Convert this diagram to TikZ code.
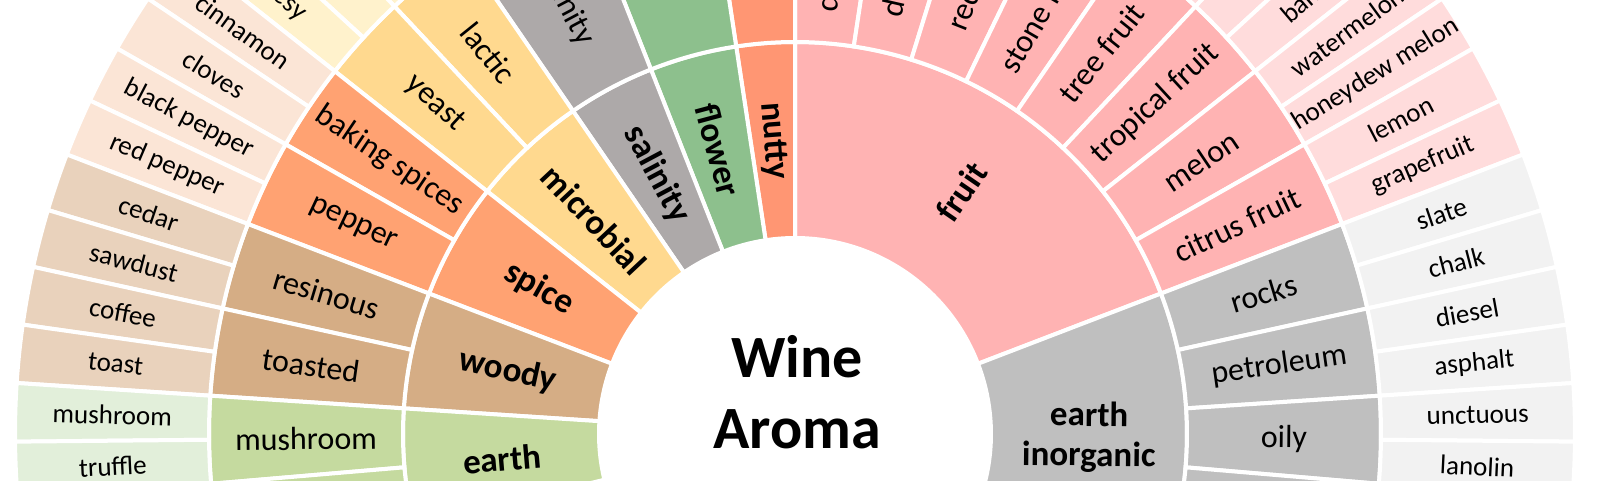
\documentclass[tikz,border=0pt]{standalone}
\usepackage{fontspec}
\setmainfont{Carlito}
\usepackage{tikz}

\definecolor{fruitpink}{HTML}{FFB3B3}
\definecolor{fruitleaf}{HTML}{FFDCDC}
\definecolor{nuttyorange}{HTML}{FF9673}
\definecolor{flowergreen}{HTML}{8DC08D}
\definecolor{saltgray}{HTML}{ADA9A9}
\definecolor{microyellow}{HTML}{FFD98F}
\definecolor{microleaf}{HTML}{FFF2CC}
\definecolor{spiceorange}{HTML}{FFA272}
\definecolor{spiceleaf}{HTML}{FBE5D6}
\definecolor{woodytan}{HTML}{D5AD85}
\definecolor{woodyleaf}{HTML}{E9D2BC}
\definecolor{earthgreen}{HTML}{C5DA9F}
\definecolor{earthleaf}{HTML}{E2EFDA}
\definecolor{inorggray}{HTML}{BFBFBF}
\definecolor{inorgleaf}{HTML}{F2F2F2}

% one leaf of the outer ring, in degrees
\newcommand{\leafstep}{4.3125}

\begin{document}
\begin{tikzpicture}[x=1pt, y=1pt,
  cell/.style={draw=white, line width=4pt, line join=round},
  catlabel/.style={font=\bfseries\fontsize{35}{40}\selectfont, inner sep=0pt, align=center},
  sublabel/.style={font=\fontsize{32}{36}\selectfont, inner sep=0pt},
  leaflabel/.style={font=\fontsize{27}{30}\selectfont, inner sep=0pt},
  titlelabel/.style={font=\bfseries\fontsize{60}{70}\selectfont, inner sep=0pt}]

  \useasboundingbox (-795,-46) rectangle (805,434);
  \fill[white] (-795,-46) rectangle (805,434);
  \clip (-795,-46) rectangle (805,434);

  % inner ring: categories
  \foreach \a/\b/\col/\txt/\nm in {
      0/16/fruitpink/fruit/fruit,
      16/26/inorggray/{earth\\inorganic}/inorganic,
      -2/0/nuttyorange/nutty/nutty,
      -5/-2/flowergreen/flower/flower,
      -8/-5/saltgray/salinity/salinity,
      -12/-8/microyellow/microbial/microbial,
      -16/-12/spiceorange/spice/spice,
      -20/-16/woodytan/woody/woody,
      -24/-20/earthgreen/earth/earth} {
    \pgfmathsetmacro\sa{90-\a*\leafstep}
    \pgfmathsetmacro\ea{90-\b*\leafstep}
    \pgfmathsetmacro\md{(\sa+\ea)/2}
    \pgfmathsetmacro\rot{\md>90 ? \md-180 : \md}
    \filldraw[cell, fill=\col] (\sa:196) arc[start angle=\sa, end angle=\ea, radius=196]
      -- (\ea:392) arc[start angle=\ea, end angle=\sa, radius=392] -- cycle;
    \node[catlabel, rotate=\rot] (\nm) at (\md:294) {\txt};
  }

  % middle ring: sub categories
  \foreach \a/\b/\col/\txt/\nm in {
      0/2/fruitpink/dried fruit/dried,
      2/4/fruitpink/dark fruit/dark,
      4/6/fruitpink/red fruit/red,
      6/8/fruitpink/stone fruit/stone,
      8/10/fruitpink/tree fruit/tree,
      10/12/fruitpink/tropical fruit/tropical,
      12/14/fruitpink/melon/melon,
      14/16/fruitpink/citrus fruit/citrus,
      16/18/inorggray/rocks/rocks,
      18/20/inorggray/petroleum/petroleum,
      20/22/inorggray/oily/oily,
      22/26/inorggray//,
      -2/0/nuttyorange//,
      -5/-2/flowergreen//,
      -8/-5/saltgray/salinity/salt,
      -10/-8/microyellow/lactic/lactic,
      -12/-10/microyellow/yeast/yeast,
      -14/-12/spiceorange/baking spices/baking,
      -16/-14/spiceorange/pepper/pepper,
      -18/-16/woodytan/resinous/resinous,
      -20/-18/woodytan/toasted/toasted,
      -22/-20/earthgreen/mushroom/mushroom,
      -24/-22/earthgreen//} {
    \pgfmathsetmacro\sa{90-\a*\leafstep}
    \pgfmathsetmacro\ea{90-\b*\leafstep}
    \pgfmathsetmacro\md{(\sa+\ea)/2}
    \pgfmathsetmacro\rot{\md>90 ? \md-180 : \md}
    \filldraw[cell, fill=\col] (\sa:392) arc[start angle=\sa, end angle=\ea, radius=392]
      -- (\ea:586) arc[start angle=\ea, end angle=\sa, radius=586] -- cycle;
    \ifx\txt\empty\else
      \node[sublabel, rotate=\rot] (\nm) at (\md:489) {\txt};
    \fi
  }

  % outer ring: aromas
  \foreach \a/\b/\col/\txt/\nm in {
      8/9/fruitleaf//, 9/10/fruitleaf//, 10/11/fruitleaf//,
      11/12/fruitleaf/banana/banana,
      12/13/fruitleaf/watermelon/watermelon,
      13/14/fruitleaf/honeydew melon/honeydew,
      14/15/fruitleaf/lemon/lemon,
      15/16/fruitleaf/grapefruit/grapefruit,
      16/17/inorgleaf/slate/slate,
      17/18/inorgleaf/chalk/chalk,
      18/19/inorgleaf/diesel/diesel,
      19/20/inorgleaf/asphalt/asphalt,
      20/21/inorgleaf/unctuous/unctuous,
      21/22/inorgleaf/lanolin/lanolin,
      22/23/inorgleaf//,
      -9/-8/microleaf//, -10/-9/microleaf//, -11/-10/microleaf//,
      -12/-11/microleaf/cheesy/cheesy,
      -13/-12/spiceleaf/cinnamon/cinnamon,
      -14/-13/spiceleaf/cloves/cloves,
      -15/-14/spiceleaf/black pepper/blackpepper,
      -16/-15/spiceleaf/red pepper/redpepper,
      -17/-16/woodyleaf/cedar/cedar,
      -18/-17/woodyleaf/sawdust/sawdust,
      -19/-18/woodyleaf/coffee/coffee,
      -20/-19/woodyleaf/toast/toast,
      -21/-20/earthleaf/mushroom/mushroomleaf,
      -22/-21/earthleaf/truffle/truffle,
      -23/-22/earthleaf//} {
    \pgfmathsetmacro\sa{90-\a*\leafstep}
    \pgfmathsetmacro\ea{90-\b*\leafstep}
    \pgfmathsetmacro\md{(\sa+\ea)/2}
    \pgfmathsetmacro\rot{\md>90 ? \md-180 : \md}
    \filldraw[cell, fill=\col] (\sa:586) arc[start angle=\sa, end angle=\ea, radius=586]
      -- (\ea:780) arc[start angle=\ea, end angle=\sa, radius=780] -- cycle;
    \ifx\txt\empty\else
      \node[leaflabel, rotate=\rot] (\nm) at (\md:683) {\txt};
    \fi
  }

  % centre
  \node[titlelabel, anchor=base] (wine) at (2,57) {Wine};
  \node[titlelabel, anchor=base] (aroma) at (2,-14) {Aroma};
\end{tikzpicture}
\end{document}
